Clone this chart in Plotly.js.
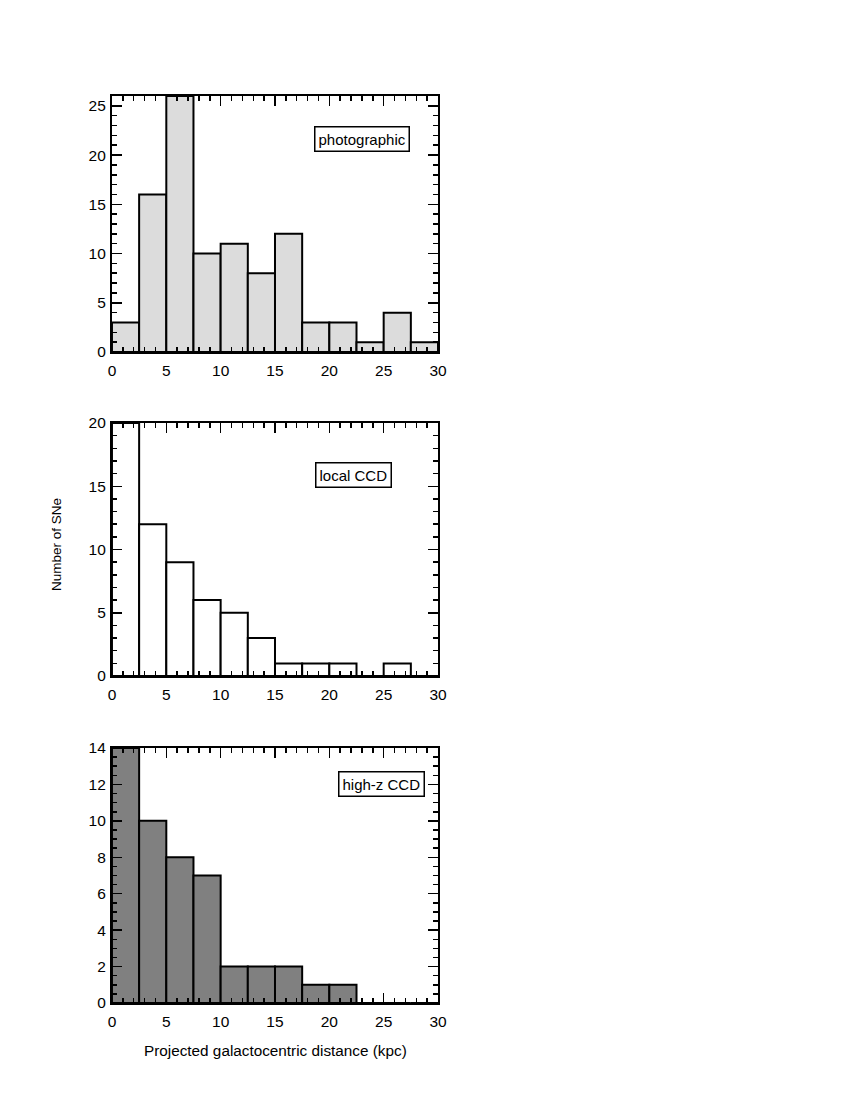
<!DOCTYPE html>
<html>
<head>
<meta charset="utf-8">
<script src="https://cdn.plot.ly/plotly-3.0.1.min.js"></script>
<style>html,body{margin:0;padding:0;background:#fff;}#chart{width:856px;height:1107px;}</style>
</head>
<body>
<div id="chart"></div>
<script>
// Bin centres (kpc), bin width 2.5
const binCenters = [1.25, 3.75, 6.25, 8.75, 11.25, 13.75, 16.25, 18.75, 21.25, 23.75, 26.25, 28.75];
const photographic = [3, 16, 26, 10, 11, 8, 12, 3, 3, 1, 4, 1];
const localCCD = [20, 12, 9, 6, 5, 3, 1, 1, 1, 0, 1, 0];
const highzCCD = [14, 10, 8, 7, 2, 2, 2, 1, 1, 0, 0, 0];
const panelLabels = ["photographic", "local CCD", "high-z CCD"];
const yTitle = "Number of SNe";
const xTitle = "Projected galactocentric distance (kpc)";

const font = "Liberation Sans, Arial, Helvetica, sans-serif";

function barTrace(y, color, ax) {
  return {
    type: 'bar', x: binCenters, y: y, width: 2.5,
    xaxis: 'x' + ax, yaxis: 'y' + ax,
    marker: {color: color, line: {color: '#000', width: 2}},
    hoverinfo: 'skip'
  };
}

const traces = [
  barTrace(photographic, '#dcdcdc', ''),
  barTrace(localCCD, '#ffffff', '2'),
  barTrace(highzCCD, '#808080', '3')
];

function xAxis(anchor) {
  return {
    domain: [0.1308, 0.5117], range: [0, 30], anchor: anchor,
    tickmode: 'linear', tick0: 0, dtick: 5,
    ticks: 'inside', ticklen: 10, tickwidth: 1.5, tickcolor: '#000',
    minor: {ticks: 'inside', dtick: 1, ticklen: 5, tickwidth: 1.5, tickcolor: '#000'},
    showline: true, linecolor: '#000', linewidth: 2, mirror: 'allticks',
    showgrid: false, zeroline: false, ticklabelstandoff: 3,
    tickfont: {family: font, size: 15.5, color: '#000'}
  };
}
function yAxis(anchor, domain, maxv, dt, mdt) {
  return {
    domain: domain, range: [0, maxv], anchor: anchor,
    tickmode: 'linear', tick0: 0, dtick: dt,
    ticks: 'inside', ticklen: 10, tickwidth: 1.5, tickcolor: '#000',
    minor: {ticks: 'inside', dtick: mdt, ticklen: 5, tickwidth: 1.5, tickcolor: '#000'},
    showline: true, linecolor: '#000', linewidth: 2, mirror: 'allticks',
    showgrid: false, zeroline: false, ticklabelstandoff: 1,
    tickfont: {family: font, size: 15.5, color: '#000'}
  };
}

function label(text, xp, yp) {
  return {
    text: text, xref: 'paper', yref: 'paper', x: xp / 856, y: 1 - yp / 1107,
    xanchor: 'center', yanchor: 'middle', showarrow: false,
    font: {family: font, size: 15, color: '#000'},
    bordercolor: '#000', borderwidth: 1.5, borderpad: 3, bgcolor: '#fff'
  };
}

const layout = {
  width: 856, height: 1107,
  margin: {l: 0, r: 0, t: 0, b: 0},
  paper_bgcolor: '#fff', plot_bgcolor: '#fff',
  showlegend: false, bargap: 0,
  xaxis: xAxis('y'),
  yaxis: yAxis('x', [0.682, 0.9133], 26, 5, 1),
  xaxis2: xAxis('y2'),
  yaxis2: yAxis('x2', [0.3893, 0.6179], 20, 5, 1),
  xaxis3: xAxis('y3'),
  yaxis3: yAxis('x3', [0.0939, 0.3243], 14, 2, 0.5),
  annotations: [
    label(panelLabels[0], 362, 139),
    label(panelLabels[1], 353, 475),
    label(panelLabels[2], 381, 784),
    {text: yTitle, xref: 'paper', yref: 'paper', x: 57 / 856, y: 1 - 544 / 1107,
     textangle: -90, showarrow: false, xanchor: 'center', yanchor: 'middle',
     font: {family: font, size: 13.5, color: '#000'}},
    {text: xTitle, xref: 'paper', yref: 'paper', x: 275 / 856, y: 1 - 1050 / 1107,
     showarrow: false, xanchor: 'center', yanchor: 'middle',
     font: {family: font, size: 15.3, color: '#000'}}
  ]
};

Plotly.newPlot('chart', traces, layout, {staticPlot: true, displayModeBar: false});
</script>
</body>
</html>
